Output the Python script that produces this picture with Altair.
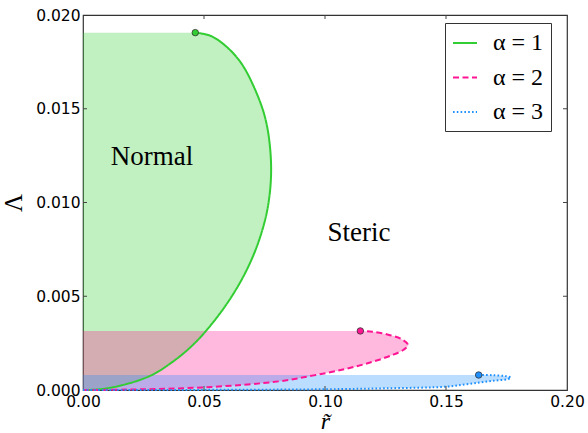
import altair as alt
import pandas as pd

series_names = ["α = 1", "α = 2", "α = 3"]
line_colors = ["#32cd32", "#ff1493", "#1e90ff"]
dash_styles = [[1, 0], [6, 3.5], [1.6, 2.2]]

# curve points, ordered from the origin to the end dot (Λ increasing)
g_x = [0.0, 0.0071, 0.0175, 0.0285, 0.0370, 0.0437, 0.0505, 0.0605, 0.0684, 0.0738,
       0.0768, 0.0777, 0.0755, 0.0705, 0.0650, 0.0585, 0.0525, 0.0464]
g_y = [0.0, 0.00004, 0.0003, 0.0008, 0.0015, 0.0022, 0.0031, 0.0048, 0.0066, 0.0084,
       0.0101, 0.0121, 0.0144, 0.0162, 0.0175, 0.0184, 0.0189, 0.01906]

p_x = [0.0, 0.0113, 0.0498, 0.0815, 0.0953, 0.1085, 0.1195, 0.1275, 0.1325, 0.1343,
       0.1315, 0.1255, 0.1195, 0.1146]
p_y = [0.0, 0.00001, 0.00014, 0.00047, 0.00078, 0.00112, 0.00150, 0.00185, 0.00215, 0.00240,
       0.00272, 0.00297, 0.00311, 0.00315]

b_x = [0.0, 0.06, 0.10, 0.125, 0.1504, 0.158, 0.1642, 0.1700, 0.1755, 0.1768, 0.1745, 0.169, 0.1635]
b_y = [0.0, 0.00001, 0.00004, 0.00009, 0.00018, 0.0003, 0.00040, 0.00050, 0.00058, 0.00066,
       0.00074, 0.00079, 0.0008]

x_ticks = [0.0, 0.05, 0.10, 0.15, 0.20]
y_ticks = [0.0, 0.005, 0.010, 0.015, 0.020]

label_text = ["Normal", "Steric"]
label_x = [0.0285, 0.114]
label_y = [0.01244, 0.0084]

rows = []
for name, xs_, ys_ in zip(series_names, [g_x, p_x, b_x], [g_y, p_y, b_y]):
    for i, (xv, yv) in enumerate(zip(xs_, ys_)):
        rows.append({"series": name, "x": xv, "y": yv, "idx": i, "base": 0.0})
df = pd.DataFrame(rows)
dots = df.groupby("series", as_index=False).last()

xs = alt.Scale(domain=[0, 0.2], nice=False, zero=False)
ys = alt.Scale(domain=[0, 0.02], nice=False, zero=False)
cscale = alt.Scale(domain=series_names, range=line_colors)
dscale = alt.Scale(domain=series_names, range=dash_styles)

leg = alt.Legend(title=None, orient="none", legendX=362, legendY=8, symbolType="stroke",
                 symbolSize=576, symbolStrokeWidth=2, labelFont="Liberation Serif",
                 labelFontSize=24, labelOffset=15, rowPadding=9.5, padding=7,
                 strokeColor="#333333", fillColor="white", labelColor="black")

xaxis = alt.Axis(values=x_ticks, format=".2f", title="r̃", labelFont="DejaVu Sans",
                 labelFontSize=15.5, labelColor="black", ticks=False, domain=False, grid=False,
                 labelPadding=4, titleFont="Liberation Serif", titleFontStyle="italic",
                 titleFontSize=24, titleFontWeight="normal", titlePadding=0, labelFlush=False,
                 labelOverlap=False, labelBound=False)
yaxis = alt.Axis(values=y_ticks, format=".3f", title="Λ", labelFont="DejaVu Sans",
                 labelFontSize=15.5, labelColor="black", ticks=False, domain=False, grid=False,
                 labelPadding=3, titleFont="Liberation Serif", titleFontSize=25,
                 titleFontWeight="normal", titlePadding=9, labelFlush=False,
                 labelOverlap=False, labelBound=False)

base = alt.Chart(df)

area_layers = []
for k, (name, col) in enumerate(zip(series_names, line_colors)):
    enc = dict(
        x=alt.X("x:Q", scale=xs, stack=None),
        x2=alt.X2("base:Q"),
        y=alt.Y("y:Q", scale=ys),
    )
    if k == 0:
        enc["x"] = alt.X("x:Q", scale=xs, stack=None, axis=xaxis)
        enc["y"] = alt.Y("y:Q", scale=ys, axis=yaxis)
    area_layers.append(
        base.transform_filter(alt.datum.series == name)
        .mark_area(orient="horizontal", fill=col, fillOpacity=0.3, interpolate="catmull-rom")
        .encode(**enc)
    )

lines = base.mark_line(strokeWidth=2, interpolate="catmull-rom").encode(
    x=alt.X("x:Q", scale=xs),
    y=alt.Y("y:Q", scale=ys),
    color=alt.Color("series:N", scale=cscale, legend=leg),
    strokeDash=alt.StrokeDash("series:N", scale=dscale, legend=leg),
    order=alt.Order("idx:Q"),
)

pts = alt.Chart(dots).mark_point(filled=True, size=42, opacity=1, stroke="#333333",
                                 strokeWidth=0.8, shape="circle").encode(
    x=alt.X("x:Q", scale=xs),
    y=alt.Y("y:Q", scale=ys),
    fill=alt.Fill("series:N", scale=cscale, legend=None),
)

labels = alt.Chart(pd.DataFrame({"t": label_text, "x": label_x, "y": label_y})).mark_text(
    font="Liberation Serif", fontSize=27, color="black", align="center", baseline="middle"
).encode(x=alt.X("x:Q", scale=xs), y=alt.Y("y:Q", scale=ys), text="t:N")

xt = pd.DataFrame({"v": x_ticks[1:-1]})
yt = pd.DataFrame({"v": y_ticks[1:-1]})
tick_col = "#444444"
xt_bot = alt.Chart(xt).mark_rule(color=tick_col, strokeWidth=1).encode(
    x=alt.X("v:Q", scale=xs), y=alt.value(375), y2=alt.value(371))
xt_top = alt.Chart(xt).mark_rule(color=tick_col, strokeWidth=1).encode(
    x=alt.X("v:Q", scale=xs), y=alt.value(0), y2=alt.value(4))
yt_left = alt.Chart(yt).mark_rule(color=tick_col, strokeWidth=1).encode(
    y=alt.Y("v:Q", scale=ys), x=alt.value(0), x2=alt.value(4))
yt_right = alt.Chart(yt).mark_rule(color=tick_col, strokeWidth=1).encode(
    y=alt.Y("v:Q", scale=ys), x=alt.value(480), x2=alt.value(484))

chart = alt.layer(*area_layers, lines, pts, labels, xt_bot, xt_top, yt_left, yt_right).properties(
    width=484, height=375, autosize=alt.AutoSizeParams(type="none"),
    padding={"left": 83, "top": 15, "right": 21, "bottom": 43},
    background="white",
).configure_view(stroke="#333333", strokeWidth=1.2)

chart.save("out.html", embed_options={"renderer": "svg", "actions": False})
